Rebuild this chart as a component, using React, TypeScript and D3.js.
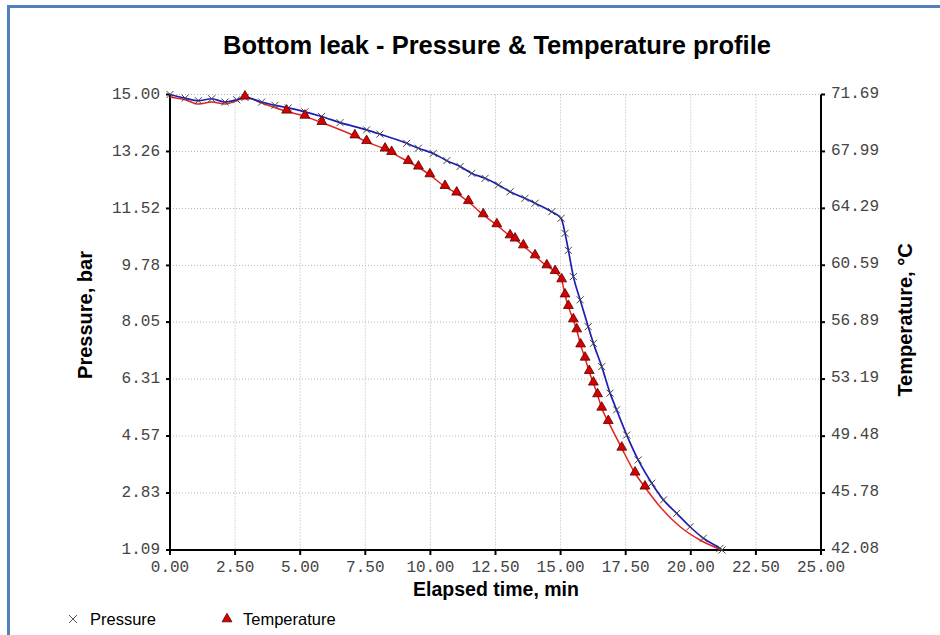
import { useMemo } from "react";
import * as d3 from "d3";

const WIDTH = 940;
const HEIGHT = 635;
const MARGIN = { top: 94.5, right: 119, bottom: 85, left: 170 };

// elapsed time (min) / pressure (bar)
const pressureTime = [
  0, 0.58, 1.09, 1.6, 2.11, 2.56, 2.88, 3.52, 4.03, 4.54, 5.18, 5.82, 6.53, 7.55, 8.06,
  9.09, 9.54, 10.11, 10.63, 11.14, 11.59, 12.1, 12.61, 13.06, 13.63, 14.02, 14.66, 15.02,
  15.17, 15.3, 15.49, 15.75, 16.06, 16.26, 16.58, 16.9, 17.15, 17.54, 17.98, 18.5, 18.95,
  19.46, 19.97, 20.48, 21.12, 21.2,
];
const pressureValue = [
  15.0, 14.89, 14.81, 14.87, 14.77, 14.84, 14.91, 14.77, 14.67, 14.59, 14.47, 14.33, 14.14,
  13.92, 13.79, 13.51, 13.36, 13.2, 12.98, 12.8, 12.59, 12.44, 12.24, 12.03, 11.83, 11.68,
  11.42, 11.22, 10.76, 10.24, 9.44, 8.73, 7.91, 7.4, 6.69, 5.88, 5.37, 4.6, 3.84, 3.13, 2.62,
  2.21, 1.8, 1.45, 1.14, 1.09,
];

// elapsed time (min) / temperature (°C)
const tempTime = [
  0, 0.58, 1.09, 1.6, 2.11, 2.5, 2.88, 3.52, 4.48, 5.18, 5.83, 7.1, 7.55, 8.26, 8.51, 9.15,
  9.54, 9.98, 10.56, 11.01, 11.46, 12.03, 12.55, 13.06, 13.25, 13.57, 14.02, 14.47, 14.79,
  15.04, 15.17, 15.3, 15.49, 15.62, 15.77, 15.94, 16.1, 16.26, 16.42, 16.58, 16.83, 17.35,
  17.86, 18.24, 18.82, 19.59, 20.35, 21.19,
];
const tempValue = [
  71.51, 71.35, 71.07, 71.2, 71.07, 71.25, 71.51, 71.14, 70.6, 70.27, 69.86, 68.99, 68.62,
  68.13, 67.91, 67.32, 66.96, 66.46, 65.7, 65.27, 64.72, 63.86, 63.21, 62.49, 62.28, 61.84,
  61.19, 60.54, 60.17, 59.63, 58.65, 57.9, 57.03, 56.38, 55.4, 54.54, 53.67, 52.92, 52.16,
  51.29, 50.42, 48.69, 47.07, 46.16, 44.89, 43.59, 42.73, 42.08,
];

const xTicks = [0, 2.5, 5, 7.5, 10, 12.5, 15, 17.5, 20, 22.5, 25];
const pressureTicks = [1.09, 2.83, 4.57, 6.31, 8.05, 9.78, 11.52, 13.26, 15.0];
const tempTicks = [42.08, 45.78, 49.48, 53.19, 56.89, 60.59, 64.29, 67.99, 71.69];

const MONO = "'Liberation Mono', 'DejaVu Sans Mono', monospace";
const SANS = "'Liberation Sans', Arial, sans-serif";

const App = () => {
  const boundsWidth = WIDTH - MARGIN.left - MARGIN.right;
  const boundsHeight = HEIGHT - MARGIN.top - MARGIN.bottom;

  const xScale = useMemo(
    () => d3.scaleLinear().domain([0, 25]).range([0, boundsWidth]),
    [boundsWidth]
  );
  const pScale = useMemo(
    () => d3.scaleLinear().domain([1.09, 15.0]).range([boundsHeight, 0]),
    [boundsHeight]
  );
  const tScale = useMemo(
    () => d3.scaleLinear().domain([42.08, 71.69]).range([boundsHeight, 0]),
    [boundsHeight]
  );

  const pressure = pressureTime.map((t, i) => ({ t, v: pressureValue[i] }));
  const temperature = tempTime.map((t, i) => ({ t, v: tempValue[i] }));

  const pLine = d3
    .line<{ t: number; v: number }>()
    .x((d) => xScale(d.t))
    .y((d) => pScale(d.v))
    .curve(d3.curveMonotoneX);
  const tLine = d3
    .line<{ t: number; v: number }>()
    .x((d) => xScale(d.t))
    .y((d) => tScale(d.v))
    .curve(d3.curveMonotoneX);

  // triangles only sit on the logged points, not on the early noisy stretch or the tail
  const tempMarks = temperature.filter((d) => (d.t >= 4 && d.t <= 18.5) || d.t === 2.88);

  const tri = d3.symbol().type(d3.symbolTriangle).size(42)();
  const fmt = d3.format(".2f");

  return (
    <svg
      width={WIDTH}
      height={HEIGHT}
      style={{ position: "absolute", left: 0, top: 0, background: "#fff" }}
    >
      {/* frame */}
      <path d={`M8.5,${HEIGHT} V6.5 H${WIDTH}`} fill="none" stroke="#4f81bd" strokeWidth={3} />

      <text
        x={497}
        y={54}
        textAnchor="middle"
        fontFamily={SANS}
        fontWeight="bold"
        fontSize={25.5}
        fill="#000"
      >
        Bottom leak - Pressure &amp; Temperature profile
      </text>

      <g transform={`translate(${MARGIN.left},${MARGIN.top})`}>
        {/* grid */}
        {xTicks.slice(1, -1).map((t) => (
          <line
            key={"gx" + t}
            x1={xScale(t)}
            x2={xScale(t)}
            y1={0}
            y2={boundsHeight}
            stroke="#b4b4b4"
            strokeDasharray="1,2"
          />
        ))}
        {pressureTicks.slice(1).map((v) => (
          <line
            key={"gy" + v}
            x1={0}
            x2={boundsWidth}
            y1={pScale(v)}
            y2={pScale(v)}
            stroke="#b4b4b4"
            strokeDasharray="1,2"
          />
        ))}

        {/* axes */}
        <line x1={0} x2={0} y1={0} y2={boundsHeight} stroke="#000" strokeWidth={2} />
        <line x1={boundsWidth} x2={boundsWidth} y1={0} y2={boundsHeight} stroke="#000" strokeWidth={2} />
        <line x1={0} x2={boundsWidth} y1={boundsHeight} y2={boundsHeight} stroke="#000" strokeWidth={2} />

        {pressureTicks.map((v) => (
          <g key={"pt" + v} transform={`translate(0,${pScale(v)})`}>
            <line x1={-4} x2={0} stroke="#000" strokeWidth={2} />
            <text
              x={-10}
              y={-1}
              dy="0.32em"
              textAnchor="end"
              fontFamily={MONO}
              fontSize={16}
              fill="#444"
            >
              {fmt(v)}
            </text>
          </g>
        ))}
        {tempTicks.map((v) => (
          <g key={"tt" + v} transform={`translate(${boundsWidth},${tScale(v)})`}>
            <line x1={0} x2={4} stroke="#000" strokeWidth={2} />
            <text x={10} y={-2} dy="0.32em" fontFamily={MONO} fontSize={16} fill="#444">
              {fmt(v)}
            </text>
          </g>
        ))}
        {xTicks.map((t) => (
          <g key={"xt" + t} transform={`translate(${xScale(t)},${boundsHeight})`}>
            <line y1={0} y2={5} stroke="#000" strokeWidth={2} />
            <text y={22} textAnchor="middle" fontFamily={MONO} fontSize={16} fill="#444">
              {fmt(t)}
            </text>
          </g>
        ))}

        {/* series */}
        <path d={tLine(temperature) ?? ""} fill="none" stroke="#e3231d" strokeWidth={1.5} />
        <path d={pLine(pressure) ?? ""} fill="none" stroke="#1e1eb4" strokeWidth={1.7} />

        {pressure.map((d, i) => {
          const x = xScale(d.t);
          const y = pScale(d.v);
          return (
            <path
              key={"px" + i}
              d={`M${x - 3.5},${y - 3.5}L${x + 3.5},${y + 3.5}M${x - 3.5},${y + 3.5}L${x + 3.5},${y - 3.5}`}
              stroke="#444"
              strokeWidth={1}
            />
          );
        })}
        {tempMarks.map((d, i) => (
          <path
            key={"tm" + i}
            d={tri ?? ""}
            transform={`translate(${xScale(d.t)},${tScale(d.v) - 1})`}
            fill="#d50000"
            stroke="#5a0000"
            strokeWidth={0.8}
          />
        ))}
      </g>

      {/* axis titles */}
      <text
        transform="translate(92,315) rotate(-90)"
        textAnchor="middle"
        fontFamily={SANS}
        fontWeight="bold"
        fontSize={20}
      >
        Pressure, bar
      </text>
      <text
        transform="translate(912,320) rotate(-90)"
        textAnchor="middle"
        fontFamily={SANS}
        fontWeight="bold"
        fontSize={20}
      >
        Temperature, °C
      </text>
      <text x={496} y={596} textAnchor="middle" fontFamily={SANS} fontWeight="bold" fontSize={19.5}>
        Elapsed time, min
      </text>

      {/* legend */}
      <path d="M69,615L77,623M69,623L77,615" stroke="#555" strokeWidth={1} />
      <text x={90} y={625} fontFamily={SANS} fontSize={16.5}>
        Pressure
      </text>
      <path d={tri ?? ""} transform="translate(227,619)" fill="#d50000" stroke="#5a0000" strokeWidth={0.8} />
      <text x={243} y={625} fontFamily={SANS} fontSize={16.5}>
        Temperature
      </text>
    </svg>
  );
};

export default App;
